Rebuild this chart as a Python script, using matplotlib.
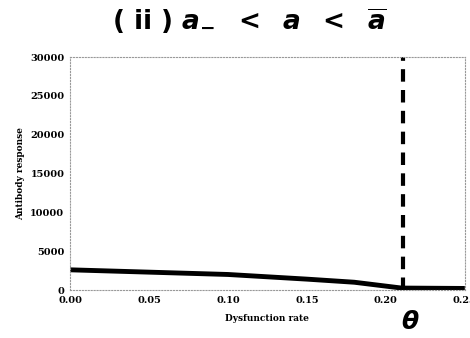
import numpy as np
import matplotlib.pyplot as plt

# dysfunction rate vs antibody response
rate = [0.0, 0.05, 0.10, 0.15, 0.18, 0.21, 0.25]
response = [2600, 2300, 2000, 1400, 1000, 250, 200]
theta = 0.211

xticks = [0.0, 0.05, 0.10, 0.15, 0.20, 0.25]
xlabels = ['0.00', '0.05', '0.10', '0.15', '0.20', '0.25']
yticks = [0, 5000, 10000, 15000, 20000, 25000, 30000]

fig = plt.figure(figsize=(4.7, 3.38), dpi=100)
ax = fig.add_axes([0.149, 0.142, 0.840, 0.689])

ax.plot(rate, response, color='black', lw=3.5, solid_capstyle='butt')
ax.axvline(theta, color='black', lw=3, ls=(0, (3, 2)))

ax.set_xlim(0, 0.25)
ax.set_ylim(0, 30000)
ax.set_xticks(xticks)
ax.set_xticklabels(xlabels)
ax.set_yticks(yticks)
ax.tick_params(length=0, labelsize=7, pad=4)
for lab in ax.get_xticklabels() + ax.get_yticklabels():
    lab.set_fontweight('bold')
    lab.set_family('serif')

for s in ax.spines.values():
    s.set_color('#999999')
    s.set_linestyle(':')
    s.set_linewidth(0.8)

ax.set_xlabel('Dysfunction rate', fontsize=6.5, fontweight='bold', family='serif', labelpad=7)
ax.set_ylabel('Antibody response', fontsize=6.5, fontweight='bold', family='serif', labelpad=4)

title = (r'( ii ) $\boldsymbol{a}_{\mathbf{-}}\ \ \mathbf{<}\ \ \boldsymbol{a}\ \ \mathbf{<}\ \ '
         r'\overline{\boldsymbol{a}}$')
fig.text(0.53, 0.935, title, ha='center', va='center', fontsize=19, fontweight='bold')
fig.text(410 / 470, 1 - 322 / 338, r'$\boldsymbol{\theta}$',
         ha='center', va='center', fontsize=18)

fig.savefig('out.png', dpi=100)
